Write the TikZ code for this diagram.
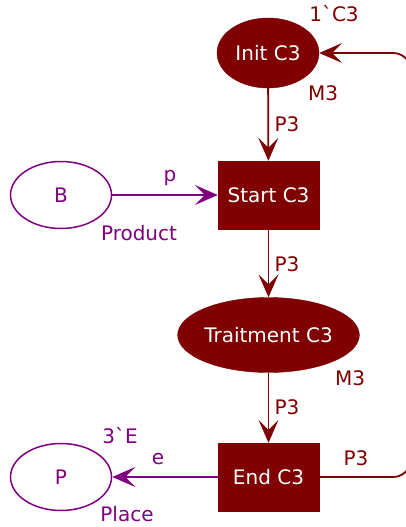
\documentclass[tikz,border=0pt]{standalone}
\usepackage{fontspec}
\setmainfont{DejaVu Sans}[Ligatures=TeXOff]
\usetikzlibrary{arrows.meta,shapes.geometric}
\definecolor{maroonc}{HTML}{800000}
\definecolor{purpc}{HTML}{800080}
\begin{document}
\begin{tikzpicture}[x=1pt,y=-1pt,
  font=\fontsize{20}{23}\selectfont,
  redplace/.style={ellipse, fill=maroonc, draw=maroonc, text=white, inner sep=0pt},
  trans/.style={rectangle, fill=maroonc, draw=maroonc, text=white, minimum width=101pt, minimum height=68pt, inner sep=0pt},
  pplace/.style={ellipse, draw=purpc, line width=1.5pt, text=purpc, minimum width=101pt, minimum height=67pt, inner sep=0pt},
  tip/.tip={Stealth[length=23pt,width=20pt,inset=10pt]},
  rarc/.style={draw=maroonc, line width=1.8pt, -tip},
  parc/.style={draw=purpc, line width=1.8pt, -tip},
  rlab/.style={text=maroonc, inner sep=0pt},
  plab/.style={text=purpc, inner sep=0pt}]
\clip (0,0) rectangle (406,527);
\fill[white] (0,0) rectangle (406,527);
% nodes
\node[redplace, minimum width=102pt, minimum height=70pt] (init) at (268,53) {Init C3};
\node[trans] (start) at (268.5,195) {Start C3};
\node[redplace, minimum width=179pt, minimum height=75pt] (trait) at (268.5,335) {Traitment C3};
\node[trans] (end) at (268.5,477) {End C3};
\node[pplace] (B) at (61,195) {B};
\node[pplace] (P) at (61,477) {P};
% labels
\node[rlab] (l1) at (334,14) {1\symbol{96}C3};
\node[rlab] (m1) at (323,93) {M3};
\node[rlab] (a1) at (287,124) {P3};
\node[plab] (pl) at (170,178) {p};
\node[plab] (prod) at (139,233) {Product};
\node[rlab] (a2) at (287,264) {P3};
\node[rlab] (m2) at (350,378) {M3};
\node[rlab] (a3) at (287,407) {P3};
\node[plab] (e3) at (120,436) {3\symbol{96}E};
\node[plab] (el) at (158,459) {e};
\node[plab] (plc) at (127,514) {Place};
\node[rlab] (a4) at (356,458) {P3};
% arcs
\draw[rarc] (init) -- (start);
\draw[parc] (B) -- (start);
\draw[rarc] (start) -- (trait);
\draw[rarc] (trait) -- (end);
\draw[parc] (end) -- (P);
\coordinate (c1) at (411,477);
\coordinate (c2) at (411,53);
\draw[rarc, rounded corners=18pt] (end.east) -- (c1) -- (c2) -- (init.east);
\end{tikzpicture}
\end{document}
